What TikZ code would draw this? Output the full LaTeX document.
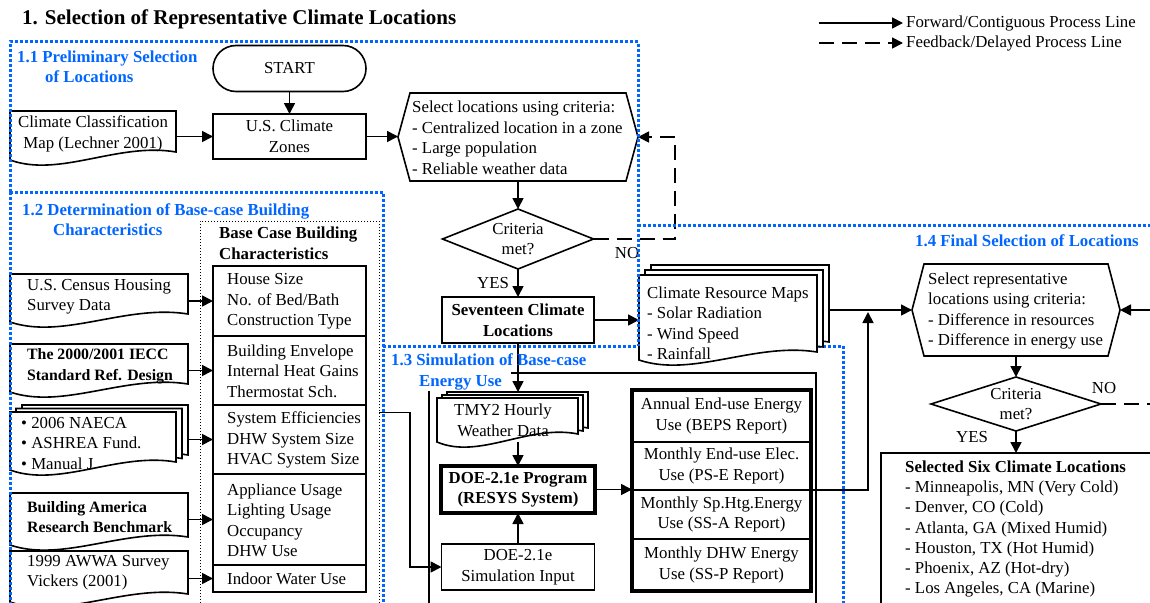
\documentclass[tikz,border=0pt]{standalone}
\usepackage{fontspec}
\setmainfont{Liberation Serif}
\usetikzlibrary{arrows.meta,calc}
\definecolor{zoneblue}{RGB}{0,102,255}
\newcommand\fs{\fontsize{16.8}{20.5}\selectfont}
\newcommand\docbf{\fontsize{15.8}{20.5}\selectfont\bfseries}

\tikzset{
  txt/.style={font=\fs, inner sep=0pt, align=left, anchor=west},
  ctxt/.style={font=\fs, inner sep=0pt, align=center},
  geo/.style={draw=none, inner sep=0pt, outer sep=0pt},
  box/.style={draw, line width=1.6pt, font=\fs, align=center, inner sep=0pt, outer sep=0pt},
  heavybox/.style={box, line width=3.4pt, font=\fs\bfseries},
  rowbox/.style={draw, line width=1.2pt, inner sep=0pt, outer sep=0pt, minimum width=153pt},
  outrow/.style={draw, line width=1.2pt, font=\fs, align=center, inner sep=0pt, outer sep=0pt, minimum width=179pt},
  shp/.style={line width=1.6pt, line join=miter},
  conn/.style={line width=1.7pt, -{Triangle[length=11pt,width=11pt]}},
  fb/.style={line width=1.7pt, dash pattern=on 15pt off 8pt},
  fbarrow/.style={fb, -{Triangle[length=11pt,width=11pt]}},
  frameline/.style={line width=1.6pt},
  zone/.style={draw=zoneblue, line width=3pt, dash pattern=on 2.6pt off 2.4pt},
  zlbl/.style={font=\fs\bfseries, text=zoneblue, inner sep=0pt, align=left, anchor=west},
  dotbox/.style={draw, line width=0.9pt, dash pattern=on 0.9pt off 2.1pt},
  docpath/.style={insert path={(#1.south west) -- (#1.north west) -- (#1.north east)
      -- ($(#1.south east)+(0,-8)$)
      .. controls ($(#1.south west)!0.65!(#1.south east)+(0,-18)$)
      and ($(#1.south west)!0.3!(#1.south east)+(0,18)$) .. (#1.south west) -- cycle}},
  hexpath/.style={insert path={(#1.west) -- ($(#1.north west)+(12,0)$)
      -- ($(#1.north east)+(-12,0)$) -- (#1.east) -- ($(#1.south east)+(-12,0)$)
      -- ($(#1.south west)+(12,0)$) -- cycle}},
  diampath/.style={insert path={(#1.west) -- (#1.north) -- (#1.east) -- (#1.south) -- cycle}}
}

\begin{document}
\begin{tikzpicture}[x=1pt,y=-1pt]
\useasboundingbox (0,0) rectangle (1150,602);
\fill[white] (0,0) rectangle (1150,602);

% top edge of the simulation zone lies beneath the shapes
\draw[zone] (383,346) -- (843,346);

% ---------- title and legend ----------
\node[inner sep=0pt, anchor=west, font=\fontsize{21}{24}\selectfont\bfseries] (title) at (22,19)
  {1. Selection of Representative Climate Locations};
\node[txt, inner xsep=3pt] (lgfwd) at (903,23) {Forward/Contiguous Process Line};
\node[txt, inner xsep=3pt] (lgfb) at (903,43) {Feedback/Delayed Process Line};
\coordinate (lgfwds) at (819,23);
\coordinate (lgfbs) at (819,43);
\draw[conn] (lgfwds) -- (lgfwd.west);
\draw[fbarrow] (lgfbs) -- (lgfb.west);

% ---------- 1.1 preliminary selection ----------
\node[box, rounded corners=23pt, minimum width=153pt, minimum height=46pt] (start) at (289.5,68.5) {START};
\node[box, minimum width=153pt, minimum height=45pt] (zones) at (289.5,136.5) {U.S. Climate\\Zones};

\node[geo, minimum width=166pt, minimum height=49pt] (ccm) at (93,135.5) {};
\draw[shp, docpath=ccm];
\node[ctxt] (ccmt) at ([yshift=1.5pt]ccm.center) {Climate Classification\\Map (Lechner 2001)};

\node[geo, minimum width=240pt, minimum height=88pt] (hex1) at (518,137) {};
\draw[shp, hexpath=hex1];
\node[txt] (hex1t) at (412,138) {Select locations using criteria:\\- Centralized location in a zone\\- Large population\\- Reliable weather data};

\node[geo, minimum width=151pt, minimum height=60pt, font=\fs, align=center] (crit1) at (518,239) {Criteria\\met?};
\draw[shp, diampath=crit1];

\node[box, font=\fs\bfseries, minimum width=152pt, minimum height=46pt] (seventeen) at (518,320) {Seventeen Climate\\Locations};

\node[ctxt] (no1) at (627,253) {NO};
\node[ctxt] (yes1) at (493,283) {YES};

\coordinate (loop1) at (675,137);
\draw[conn] (start.south) -- (zones.north);
\draw[conn] (ccm.east |- zones.west) -- (zones.west);
\draw[conn] (zones.east) -- (zones.east -| hex1.west);
\draw[conn] (hex1.south) -- (crit1.north);
\draw[fbarrow] (crit1.east) -| (loop1) -- (hex1.east);
\draw[conn] (crit1.south) -- (seventeen.north);

% ---------- climate resource maps ----------
\node[geo, minimum width=178pt, minimum height=85pt] (crm) at (728,317.5) {};
\draw[shp, fill=white, transform canvas={shift={(12pt,10pt)}}, docpath=crm];
\draw[shp, fill=white, transform canvas={shift={(6pt,5pt)}}, docpath=crm];
\draw[shp, fill=white, docpath=crm];
\node[txt] (crmt) at (647,323) {Climate Resource Maps\\- Solar Radiation\\- Wind Speed\\- Rainfall};
\draw[conn] (seventeen.east) -- (seventeen.east -| crm.west);

% ---------- 1.2 base-case building characteristics ----------
\node[dotbox, minimum width=179pt, minimum height=383pt, inner sep=0pt, outer sep=0pt] (bc) at (289.5,412.5) {};
\node[txt, font=\fs\bfseries] (bct) at (219,243.5) {Base Case Building\\Characteristics};

\node[rowbox, minimum height=70pt] (r1) at (289.5,301) {};
\node[rowbox, minimum height=69pt] (r2) at (289.5,370.5) {};
\node[rowbox, minimum height=69pt] (r3) at (289.5,439.5) {};
\node[rowbox, minimum height=91pt] (r4) at (289.5,519.5) {};
\node[rowbox, minimum height=27pt] (r5) at (289.5,578.5) {};
\node[txt] (r1t) at ([xshift=14pt,yshift=-0.5pt]r1.west) {House Size\\No. of Bed/Bath\\Construction Type};
\node[txt] (r2t) at ([xshift=14pt,yshift=-0.5pt]r2.west) {Building Envelope\\Internal Heat Gains\\Thermostat Sch.};
\node[txt] (r3t) at ([xshift=14pt,yshift=-0.5pt]r3.west) {System Efficiencies\\DHW System Size\\HVAC System Size};
\node[txt] (r4t) at ([xshift=14pt,yshift=-1pt]r4.west) {Appliance Usage\\Lighting Usage\\Occupancy\\DHW Use};
\node[txt] (r5t) at ([xshift=14pt]r5.west) {Indoor Water Use};

\node[geo, minimum width=178pt, minimum height=48pt] (census) at (99,298) {};
\draw[shp, docpath=census];
\node[txt] (censust) at (27,296.5) {U.S. Census Housing\\Survey Data};

\node[geo, minimum width=178pt, minimum height=48pt] (iecc) at (99,368) {};
\draw[shp, docpath=iecc];
\node[txt, font=\docbf] (iecct) at (27,366.5) {The 2000/2001 IECC\\Standard Ref. Design};

\node[geo, minimum width=166pt, minimum height=58pt] (naeca) at (93,441) {};
\draw[shp, fill=white, transform canvas={shift={(12pt,7pt)}}, docpath=naeca];
\draw[shp, fill=white, transform canvas={shift={(6pt,3.5pt)}}, docpath=naeca];
\draw[shp, fill=white, docpath=naeca];
\node[txt] (naecat) at (21,443) {\textbullet\ 2006 NAECA\\\textbullet\ ASHREA Fund.\\\textbullet\ Manual J};

\node[geo, minimum width=178pt, minimum height=52pt] (ba) at (99,519) {};
\draw[shp, docpath=ba];
\node[txt, font=\docbf] (bat) at (27,517) {Building America\\Research Benchmark};

\node[geo, minimum width=178pt, minimum height=51pt] (awwa) at (99,576.5) {};
\draw[shp, docpath=awwa];
\node[txt] (awwat) at (27,572.5) {1999 AWWA Survey\\Vickers (2001)};

\path (naeca.east) ++(12,0) coordinate (naecaR);
\draw[conn] (census.east |- r1.west) -- (r1.west);
\draw[conn] (iecc.east |- r2.west) -- (r2.west);
\draw[conn] (naecaR |- r3.west) -- (r3.west);
\draw[conn] (ba.east |- r4.west) -- (r4.west);
\draw[conn] (awwa.east |- r5.west) -- (r5.west);

% ---------- 1.3 simulation of base-case energy use ----------
\draw[frameline] (429,607) -- (429,391);
\draw[frameline] (511,373) -- (816,373) -- (816,607);

\node[geo, minimum width=141pt, minimum height=44pt] (tmy) at (507.5,420) {};
\draw[shp, fill=white, transform canvas={shift={(10pt,6pt)}}, docpath=tmy];
\draw[shp, fill=white, transform canvas={shift={(5pt,3pt)}}, docpath=tmy];
\draw[shp, fill=white, docpath=tmy];
\node[ctxt] (tmyt) at (503,420.5) {TMY2 Hourly\\Weather Data};

\node[heavybox, minimum width=154pt, minimum height=47pt] (program) at (518,489.5) {DOE-2.1e Program\\(RESYS System)};
\node[box, minimum width=153pt, minimum height=46pt] (siminput) at (518,567) {DOE-2.1e\\Simulation Input};

\node[outrow, minimum height=52pt] (o1) at (721.5,416) {Annual End-use Energy\\Use (BEPS Report)};
\node[outrow, minimum height=48pt] (o2) at (721.5,466) {Monthly End-use Elec.\\Use (PS-E Report)};
\node[outrow, minimum height=49pt] (o3) at (721.5,514.5) {Monthly Sp.Htg.Energy\\Use (SS-A Report)};
\node[outrow, minimum height=52pt] (o4) at (721.5,565) {Monthly DHW Energy\\Use (SS-P Report)};
\draw[line width=3.4pt] (o1.north west) rectangle (o4.south east);

\draw[conn] (seventeen.south) -- ($(seventeen.south |- tmy.north)+(0,-6)$);
\draw[conn] (program.north |- tmy.south) -- (program.north);
\draw[conn] (siminput.north) -- (program.south);
\draw[conn] (program.east) -- (program.east -| o2.west);
\draw[conn] (bc.east) -- ++(31,0) |- (siminput.west);

% ---------- 1.4 final selection ----------
\node[geo, minimum width=208pt, minimum height=92pt] (hex2) at (1016,310) {};
\draw[shp, hexpath=hex2];
\node[txt] (hex2t) at (928,311) {Select representative\\locations using criteria:\\- Difference in resources\\- Difference in energy use};

\node[geo, minimum width=170pt, minimum height=54pt, font=\fs, align=center] (crit2) at (1016,404) {Criteria\\met?};
\draw[shp, diampath=crit2];
\node[ctxt] (no2) at (1104,388) {NO};
\node[ctxt] (yes2) at (972,437) {YES};

\node[box, minimum width=279pt, minimum height=159pt] (sel) at (1020.5,532.5) {};
\node[txt, font=\fontsize{16.8}{20.3}\selectfont] (selt) at (905,529) {\textbf{Selected Six Climate Locations}\\- Minneapolis, MN (Very Cold)\\- Denver, CO (Cold)\\- Atlanta, GA (Mixed Humid)\\- Houston, TX (Hot Humid)\\- Phoenix, AZ (Hot-dry)\\- Los Angeles, CA (Marine)};

\coordinate (merge) at (868,312);
\coordinate (in2) at (1152,310);
\coordinate (out2) at (1152,404);
\path (crm.east) ++(12,0) coordinate (crmR);
\draw[conn] (o2.south east) -| (merge);
\draw[conn] (crmR |- hex2.west) -- (hex2.west);
\draw[conn] (in2) -- (hex2.east);
\draw[conn] (hex2.south) -- (crit2.north);
\draw[fb] (crit2.east) -- (out2);
\draw[conn] (crit2.south) -- (crit2.south |- sel.north);

% ---------- process-zone outlines ----------
\draw[zone] (10,192) -- (10,42) -- (638,42) -- (638,346);
\draw[zone] (10,192) -- (383,192) -- (383,608);
\draw[zone] (10,192) -- (10,608);
\draw[zone] (843,346) -- (843,608);
\draw[zone] (638,225) -- (1152,225);

\node[zlbl] (z11) at (17,67) {1.1 Preliminary Selection\\\hspace*{28pt}of Locations};
\node[zlbl] (z12) at (22,219.5) {1.2 Determination of Base-case Building\\\hspace*{31pt}Characteristics};
\node[zlbl] (z13) at (391,372) {1.3 Simulation of Base-case\\\hspace*{28pt}Energy Use};
\node[zlbl] (z14) at (915,241) {1.4 Final Selection of Locations};
\end{tikzpicture}
\end{document}
